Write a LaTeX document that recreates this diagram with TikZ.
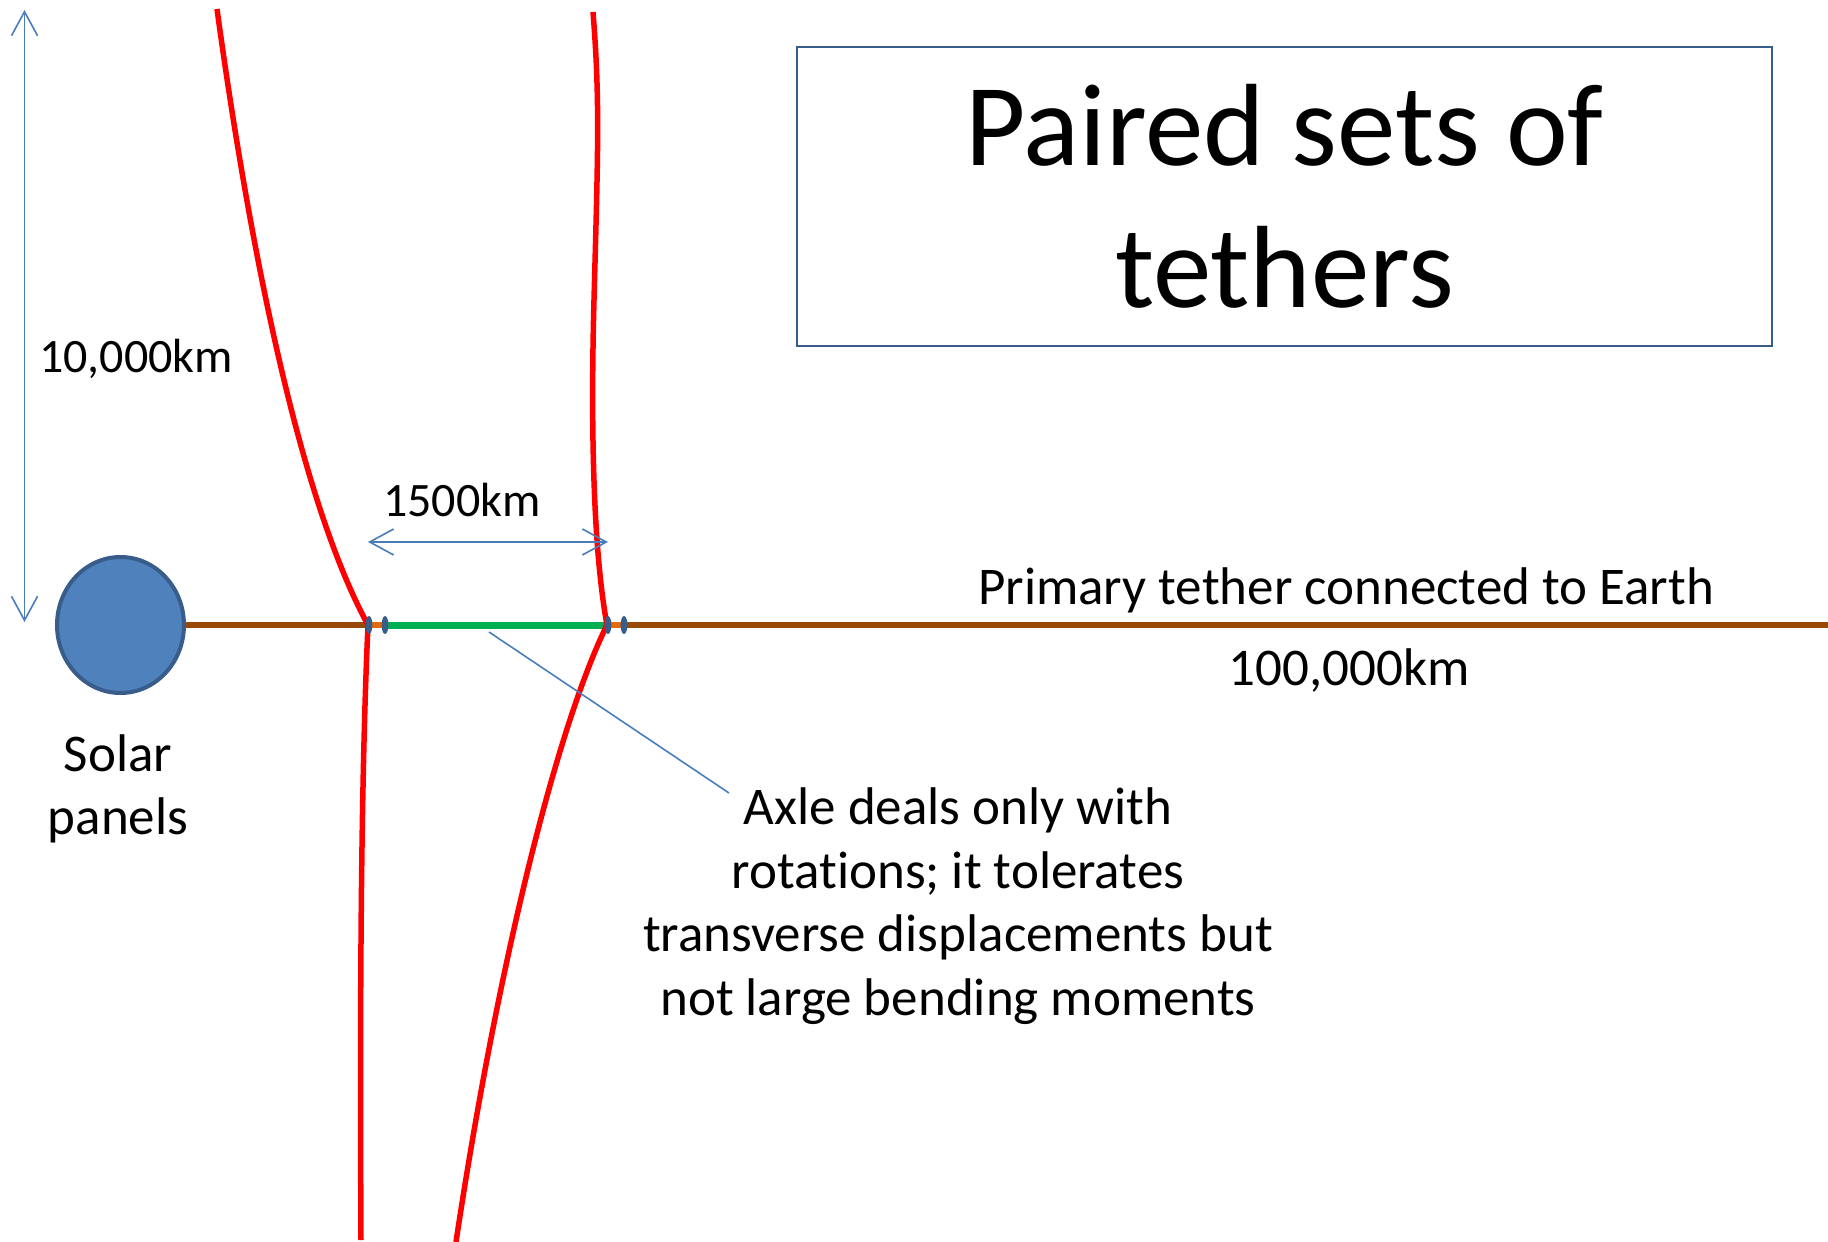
\documentclass[tikz,border=0pt]{standalone}
\usepackage{fontspec}
\setmainfont{Carlito}[Ligatures=NoCommon]
\usetikzlibrary{shapes,arrows.meta,positioning}

\definecolor{linkblue}{HTML}{4A7EBB}
\definecolor{rimblue}{HTML}{385D8A}
\definecolor{panelblue}{HTML}{4F81BD}
\definecolor{earthline}{HTML}{984807}
\definecolor{axlegreen}{HTML}{00B050}
\definecolor{collar}{HTML}{E46C0A}

\begin{document}
\begin{tikzpicture}[x=0.5pt,y=-0.5pt,
	label/.style={font=\fontsize{26.5}{31.8}\selectfont, align=center, inner sep=0},
	small/.style={font=\fontsize{24}{28.8}\selectfont, inner sep=0},
	tether/.style={red, line width=2.75pt},
	dim/.style={linkblue, line width=0.8pt, {Straight Barb[length=12pt,width=13pt]}-{Straight Barb[length=12pt,width=13pt]}},
	callout/.style={linkblue, line width=0.8pt},
	clamp/.style={ellipse, fill=rimblue, minimum width=3.4pt, minimum height=9pt, inner sep=0}]
	\useasboundingbox (0,0) rectangle (1828,1242);

	\node[draw=rimblue, line width=1pt, minimum width=487.5pt, minimum height=149.5pt,
		font=\fontsize{58.5}{71}\selectfont, align=center] (1) at (1284.5,196.5) {Paired sets of\\tethers};
	\node[small] (2) at (136,359) {10,000km};
	\node[small] (3) at (462,500) {1500km};
	\node[label] (4) at (1346,590) {Primary tether connected to Earth};
	\node[label] (5) at (1349,670) {100,000km};
	\node[label] (6) at (118,789) {Solar\\panels};
	\node[label] (7) at (958,906) {Axle deals only with\\rotations; it tolerates\\transverse displacements but\\not large bending moments};
	\node[ellipse, fill=panelblue, draw=rimblue, line width=2pt, minimum width=63.5pt, minimum height=68pt, inner sep=0] (8) at (120.5,625) {};

	\coordinate (9) at (1828,625);
	\coordinate (10) at (368,625);
	\coordinate (11) at (607,625);
	\coordinate (12) at (217,9);
	\coordinate (13) at (361,1240);
	\coordinate (14) at (593,12);
	\coordinate (15) at (456,1242);

	% primary tether and axle
	\draw[earthline, line width=3pt] (8.east) -- (9);
	\draw[collar, line width=3.25pt] (10) -- (386,625);
	\draw[collar, line width=3.25pt] (11) -- (624,625);
	\draw[axlegreen, line width=3.5pt] (386,625) -- (11);

	% paired tethers
	\draw[tether] (12) .. controls (250,250) and (300,500) .. (10);
	\draw[tether] (10) .. controls (360,800) and (360,1050) .. (13);
	\draw[tether] (14) .. controls (600,100) and (598,150) .. (594,300) .. controls (590,450) and (595,560) .. (11);
	\draw[tether] (11) .. controls (560,720) and (500,950) .. (15);

	\node[clamp] (16) at (369,625) {};
	\node[clamp] (17) at (385,625) {};
	\node[clamp] (18) at (608,625) {};
	\node[clamp] (19) at (624,625) {};

	\coordinate (20) at (24.5,10);
	\coordinate (21) at (24.5,622);
	\coordinate (22) at (368,542);
	\coordinate (23) at (608,542);
	\coordinate (24) at (489,632);
	\coordinate (25) at (729,793);

	\path[dim] (20) edge (21)
		(22) edge (23);
	\path[callout] (24) edge (25);
\end{tikzpicture}
\end{document}
